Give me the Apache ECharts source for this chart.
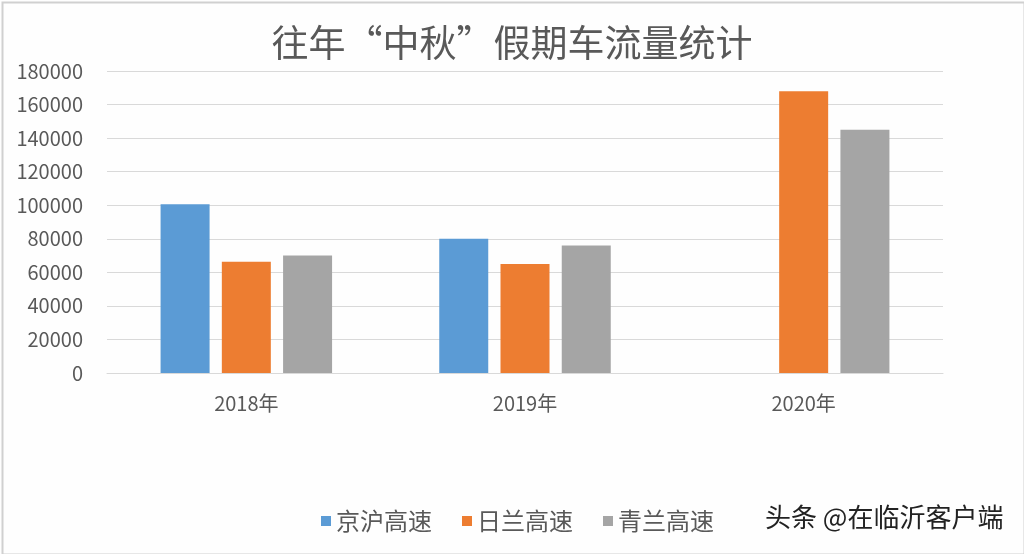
<!DOCTYPE html>
<html>
<head>
<meta charset="utf-8">
<script src="https://cdn.jsdelivr.net/npm/echarts@6/dist/echarts.min.js"></script>
<style>
  html, body { margin: 0; padding: 0; background: #fff; }
  #chart { width: 1024px; height: 554px; }
</style>
</head>
<body>
<div id="chart"></div>
<script>
// 往年“中秋”假期车流量统计
const years = ['2018年', '2019年', '2020年'];
const seriesNames = ['京沪高速', '日兰高速', '青兰高速'];
const jinghu = [100600, 80000, null];
const rilan = [66300, 65000, 168000];
const qinglan = [70000, 76000, 145000];
const yTicks = { min: 0, max: 180000, interval: 20000 };

const COLORS = ['#5b9bd5', '#ed7d31', '#a5a5a5'];
const FONT = '"Noto Sans CJK SC", "Noto Sans", sans-serif';

const chart = echarts.init(document.getElementById('chart'), null, { renderer: 'canvas' });

function barSeries(name, data, idx) {
  return {
    name,
    type: 'bar',
    data,
    barWidth: 49,
    barGap: '25%',
    itemStyle: { color: COLORS[idx] },
  };
}

chart.setOption({
  backgroundColor: '#fefefe',
  animation: false,
  title: {
    text: '往年“中秋”假期车流量统计',
    left: 'center',
    top: 19,
    textStyle: {
      color: '#595959',
      fontSize: 37,
      fontWeight: 'normal',
      fontFamily: FONT,
    },
  },
  legend: {
    data: seriesNames,
    left: 316,
    top: 504,
    icon: 'rect',
    itemWidth: 10,
    itemHeight: 10,
    itemGap: 30,
    textStyle: { color: '#595959', fontSize: 24, fontFamily: FONT },
  },
  grid: { left: 107, right: 81, top: 71, bottom: 181, containLabel: false },
  xAxis: {
    type: 'category',
    data: years,
    axisLine: { lineStyle: { color: '#d9d9d9', width: 1 } },
    axisTick: { show: false },
    axisLabel: { color: '#595959', fontSize: 20, margin: 20, fontFamily: FONT },
  },
  yAxis: {
    type: 'value',
    min: yTicks.min,
    max: yTicks.max,
    interval: yTicks.interval,
    axisLine: { show: false },
    axisTick: { show: false },
    axisLabel: {
      color: '#595959',
      fontSize: 20,
      margin: 24,
      fontFamily: FONT,
      formatter: (v) => String(v),
    },
    splitLine: { lineStyle: { color: '#d9d9d9', width: 1 } },
  },
  series: [
    barSeries(seriesNames[0], jinghu, 0),
    barSeries(seriesNames[1], rilan, 1),
    barSeries(seriesNames[2], qinglan, 2),
  ],
  graphic: [
    {
      type: 'rect',
      left: 0,
      top: 0,
      shape: { width: 1022, height: 552 },
      style: { fill: 'none', stroke: '#d0d0d0', lineWidth: 2 },
      silent: true,
    },
    {
      type: 'text',
      left: 765,
      top: 504,
      style: {
        text: '头条 @在临沂客户端',
        fill: '#222',
        font: '26px ' + FONT,
      },
    },
  ],
});
</script>
</body>
</html>
